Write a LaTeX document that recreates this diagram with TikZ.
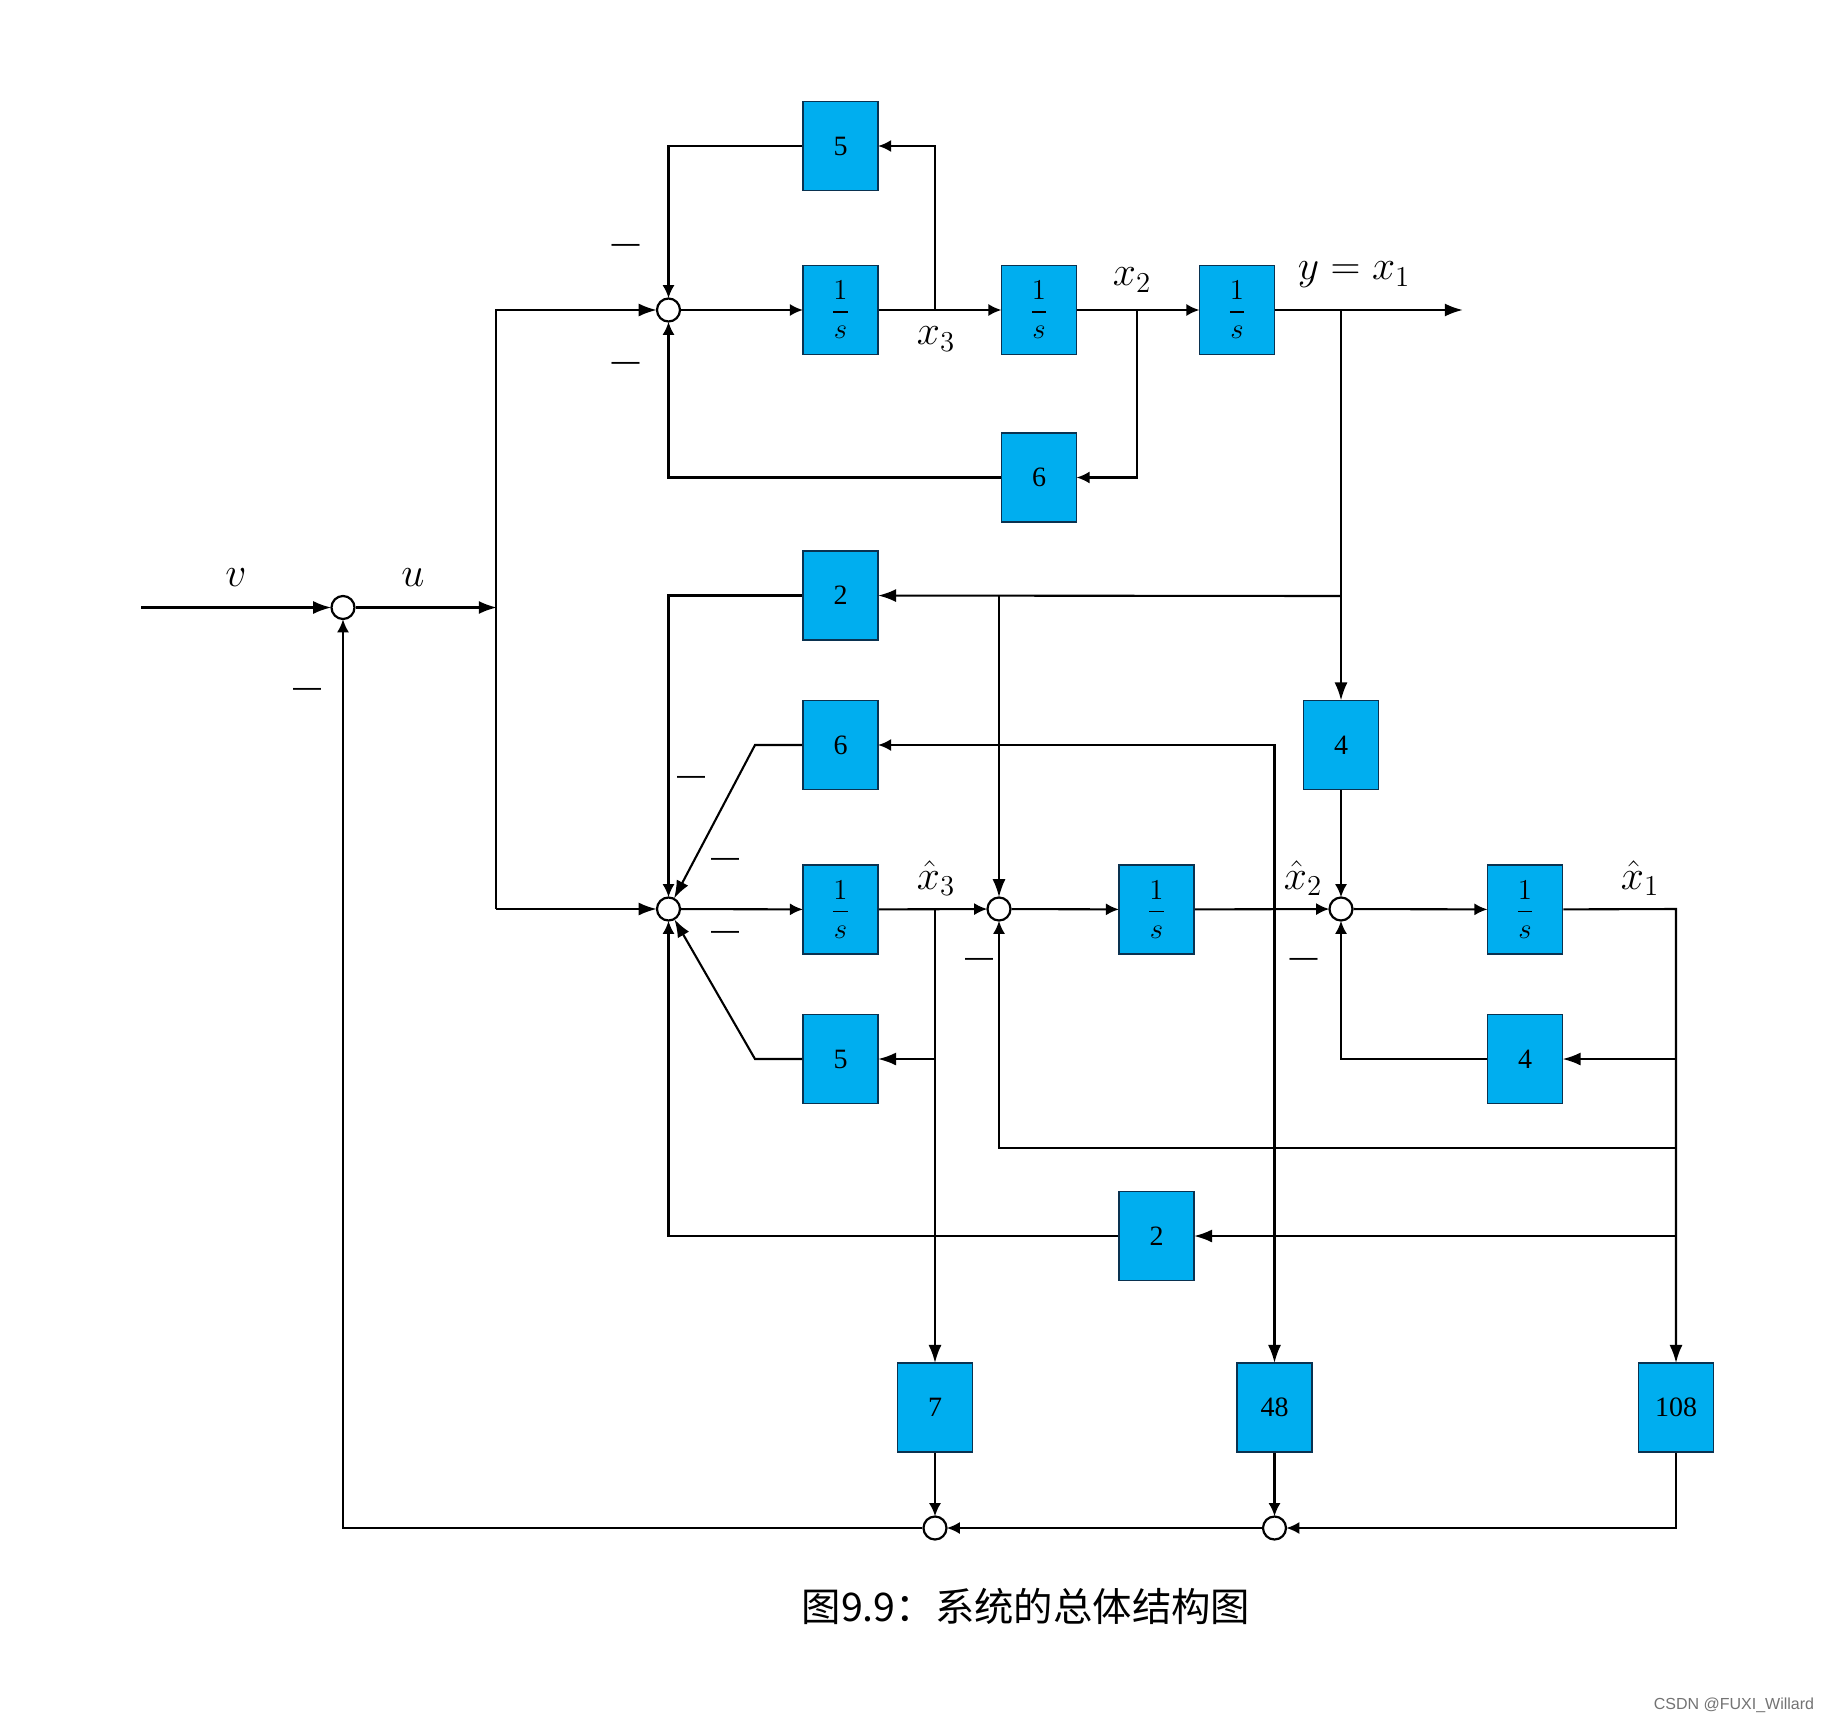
\documentclass[tikz,border=0pt]{standalone}
\usepackage{amsmath}
\usepackage{fontspec}
\setmainfont{Liberation Serif}
\newfontfamily\capfont{Noto Sans CJK SC}
\newfontfamily\markfont{Liberation Sans}
\usetikzlibrary{arrows.meta}
\definecolor{boxblue}{RGB}{0,174,239}
\definecolor{boxedge}{RGB}{10,50,80}
\tikzset{
  wire/.style={line width=1.05pt,draw=black},
  arr/.style={wire,-{Latex[length=6.5pt,width=6pt]},shorten >=-0.4pt},
  larr/.style={wire,-{Latex[length=9pt,width=6.5pt]},shorten >=-0.4pt},
  blockbox/.style={draw=boxedge,line width=0.85pt,fill=boxblue,minimum width=37.5pt,minimum height=44.5pt,inner sep=0pt,font=\fontsize{14}{16}\selectfont},
  sumnode/.style={circle,draw=black,line width=1.1pt,fill=white,minimum size=23pt/2,inner sep=0pt},
  lab/.style={inner sep=0pt,font=\fontsize{22}{26}\selectfont},
  minus/.style={inner sep=0pt,font=\markfont\fontsize{14}{16}\selectfont},
}
\newcommand{\invs}{\fontsize{15}{18}\selectfont$\dfrac{1}{s}$}
\begin{document}
\begin{tikzpicture}[x=0.5pt,y=-0.5pt]
\useasboundingbox[fill=white] (0,0) rectangle (1830,1723);

% summing junctions
\node[sumnode] (s0) at (343,607.5) {};
\node[sumnode] (s1) at (668.5,310) {};
\node[sumnode] (s2) at (668.5,909) {};
\node[sumnode] (s3) at (999,909) {};
\node[sumnode] (s4) at (1341,909) {};
\node[sumnode] (p1) at (935,1528) {};
\node[sumnode] (p2) at (1274.5,1528) {};

% plant blocks
\node[blockbox] (f5) at (840.5,146) {5};
\node[blockbox] (i1) at (840.5,310) {\invs};
\node[blockbox] (i2) at (1039,310) {\invs};
\node[blockbox] (i3) at (1237,310) {\invs};
\node[blockbox] (f6) at (1039,477.5) {6};

% observer blocks
\node[blockbox] (o2) at (840.5,595.5) {2};
\node[blockbox] (o6) at (840.5,745) {6};
\node[blockbox] (o4) at (1341,745) {4};
\node[blockbox] (h3) at (840.5,909.5) {\invs};
\node[blockbox] (h2) at (1156.5,909.5) {\invs};
\node[blockbox] (h1) at (1525,909.5) {\invs};
\node[blockbox] (o5) at (840.5,1059) {5};
\node[blockbox] (k4) at (1525,1059) {4};
\node[blockbox] (k2) at (1156.5,1236) {2};

% state feedback gains
\node[blockbox] (g7) at (935,1407.5) {7};
\node[blockbox] (g48) at (1274.5,1407.5) {48};
\node[blockbox] (g108) at (1676,1407.5) {108};

% free ends and branch points
\coordinate (vin) at (141,607.5);
\coordinate (ub) at (496,607.5);
\coordinate (bt) at (496,310);
\coordinate (bb) at (496,909);
\coordinate (x3j) at (935,310);
\coordinate (x2j) at (1137,310);
\coordinate (yj) at (1341,310);
\coordinate (yout) at (1462,310);
\coordinate (yb) at (1341,596);
\coordinate (ym) at (999,596);
\coordinate (k6) at (755,745);
\coordinate (k5) at (755,1059);
\coordinate (h3j) at (935,909);
\coordinate (h2j) at (1274.5,909);
\coordinate (h1c) at (1676,909);
\coordinate (r4) at (1676,1059);
\coordinate (r3) at (1676,1148);
\coordinate (r2) at (1676,1236);

% input and control bus
\draw[larr] (vin) -- (s0);
\draw[larr] (s0) -- (ub);
\draw[larr] (bb) -- (s2);
\draw[larr] (bb) -- (bt) -- (s1);

% plant chain
\draw[arr] (s1) -- (i1);
\draw[arr] (i1) -- (i2);
\draw[arr] (i2) -- (i3);
\draw[larr] (i3) -- (yout);
\draw[arr] (x3j) |- (f5);
\draw[arr] (f5) -| (s1);
\draw[arr] (x2j) |- (f6);
\draw[arr] (f6) -| (s1);

% output injection
\draw[larr] (yj) -- (o4);
\draw[larr] (yb) -- (o2);
\draw[arr] (o2) -| (s2);
\draw[larr] (ym) -- (s3);
\draw[arr] (o4) -- (s4);

% observer chain
\draw[arr] (s2) -- (h3);
\draw[arr] (h3) -- (s3);
\draw[arr] (s3) -- (h2);
\draw[arr] (h2) -- (s4);
\draw[arr] (s4) -- (h1);
\draw[larr] (o6.west) -- (k6) -- (s2);
\draw[larr] (o5.west) -- (k5) -- (s2);
\draw[larr] (h3j) |- (o5);
\draw[arr] (h2j) |- (o6);
\draw[arr] (k4) -| (s4);
\draw[larr] (r4) -- (k4);
\draw[arr] (r3) -| (s3);
\draw[larr] (r2) -- (k2);
\draw[arr] (k2) -| (s2);

% taps to the gains
\draw[larr] (h3j) -- (g7);
\draw[larr] (h2j) -- (g48);
\draw[larr] (h1) -- (h1c) -- (g108);

% feedback summation
\draw[arr] (g7) -- (p1);
\draw[arr] (g48) -- (p2);
\draw[arr] (g108) |- (p2);
\draw[arr] (p2) -- (p1);
\draw[arr] (p1) -| (s0);

% signal names
\node[lab] (lv) at (236,578) {$v$};
\node[lab] (lu) at (413,578) {$u$};
\node[lab] (lx3) at (936,339) {$x_3$};
\node[lab] (lx2) at (1132,280) {$x_2$};
\node[lab] (ly) at (1354,275) {$y=x_1$};
\node[lab] (lh3) at (936,878) {$\hat{x}_3$};
\node[lab] (lh2) at (1303,878) {$\hat{x}_2$};
\node[lab] (lh1) at (1640,878) {$\hat{x}_1$};

% negative signs
\node[minus] (m1) at (625.5,248.5) {—};
\node[minus] (m2) at (625.5,366.5) {—};
\node[minus] (m3) at (307,692) {—};
\node[minus] (m4) at (691,780.5) {—};
\node[minus] (m5) at (725,862) {—};
\node[minus] (m6) at (725,935.5) {—};
\node[minus] (m7) at (979,962.5) {—};
\node[minus] (m8) at (1303.5,962.5) {—};

% caption and credit
\node[inner sep=0pt,font=\capfont\fontsize{19.7}{22}\selectfont] (cap) at (1026,1606) {图9.9：系统的总体结构图};
\node[inner sep=0pt,text=black!55,font=\markfont\fontsize{8}{10}\selectfont] (credit) at (1734,1705) {CSDN @FUXI\_Willard};
\end{tikzpicture}
\end{document}
